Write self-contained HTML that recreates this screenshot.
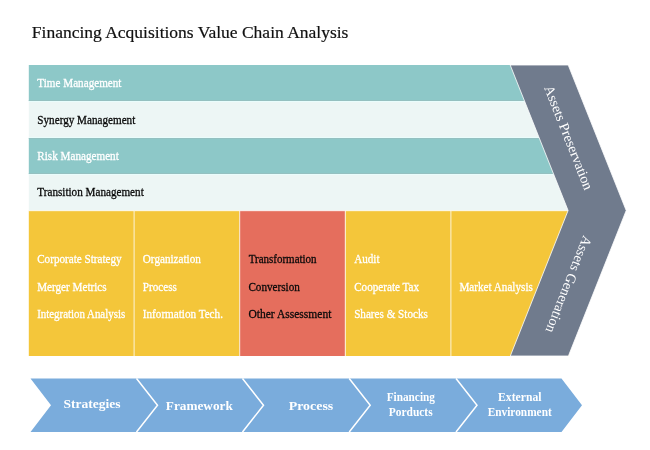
<!DOCTYPE html>
<html>
<head>
<meta charset="utf-8">
<title>Financing Acquisitions Value Chain Analysis</title>
<style>
html,body{margin:0;padding:0;background:#fff;}
body{width:650px;height:450px;overflow:hidden;}
svg{display:block;}
text{font-family:"Liberation Serif","Times New Roman",serif;}
.t{font-size:17.5px;fill:#111;stroke:#111;stroke-width:0.2px;}
.r{font-size:12.4px;}
.w{fill:#fff;stroke:#fff;stroke-width:0.3px;}
.k{fill:#0a0a0a;stroke:#0a0a0a;stroke-width:0.3px;}
.b{font-size:12.8px;font-weight:bold;fill:#fff;text-anchor:middle;}
.b2{font-size:12.2px;font-weight:bold;fill:#fff;text-anchor:middle;}
.g{font-size:14.1px;fill:#fff;}
</style>
</head>
<body>
<svg width="650" height="450" viewBox="0 0 650 450">
<rect width="650" height="450" fill="#fff"/>
<text class="t" x="31.800" y="38">Financing Acquisitions Value Chain Analysis</text>

<!-- support rows -->
<rect x="28.800" y="65" width="500" height="36" fill="#8DC8C8"/>
<rect x="28.800" y="101" width="520" height="37" fill="#EDF6F5"/>
<rect x="28.800" y="138" width="530" height="36" fill="#8DC8C8"/>
<rect x="28.800" y="174" width="540" height="37" fill="#EDF6F5"/>
<g stroke-width="1">
<line x1="28.800" y1="100.500" x2="526" y2="100.500" stroke="#95C0C0"/>
<line x1="28.800" y1="101.500" x2="526" y2="101.500" stroke="#E9FDFC"/>
<line x1="28.800" y1="137.500" x2="540" y2="137.500" stroke="#E9FDFC"/>
<line x1="28.800" y1="138.500" x2="540" y2="138.500" stroke="#95C0C0"/>
<line x1="28.800" y1="173.500" x2="554" y2="173.500" stroke="#95C0C0"/>
<line x1="28.800" y1="174.500" x2="554" y2="174.500" stroke="#E9FDFC"/>
</g>
<g transform="scale(0.9,1)">
<text class="r w" x="41.500" y="87.500">Time Management</text>
<text class="r k" x="41.500" y="123.700">Synergy Management</text>
<text class="r w" x="41.500" y="160.200">Risk Management</text>
<text class="r k" x="41.500" y="196.500">Transition Management</text>
</g>

<!-- primary boxes -->
<rect x="28.800" y="210.700" width="106" height="145.300" fill="#F4C63A"/>
<rect x="134" y="210.700" width="106" height="145.300" fill="#F4C63A"/>
<rect x="239.700" y="210.700" width="105.600" height="145.300" fill="#E56E5D"/>
<rect x="345.300" y="210.700" width="106" height="145.300" fill="#F4C63A"/>
<rect x="450.900" y="210.700" width="118" height="145.300" fill="#F4C63A"/>
<g stroke="#fff" stroke-width="1" stroke-opacity="0.800">
<line x1="28.800" y1="210.700" x2="569" y2="210.700"/>
<line x1="134.100" y1="210.700" x2="134.100" y2="356"/>
<line x1="239.700" y1="210.700" x2="239.700" y2="356"/>
<line x1="345.300" y1="210.700" x2="345.300" y2="356"/>
<line x1="450.900" y1="210.700" x2="450.900" y2="356"/>
</g>

<g transform="scale(0.9,1)">
<text class="r w" x="41.300" y="263.500">Corporate Strategy</text>
<text class="r w" x="41.300" y="290.800">Merger Metrics</text>
<text class="r w" x="41.300" y="318" textLength="97.800" lengthAdjust="spacingAndGlyphs">Integration Analysis</text>
<text class="r w" x="158.700" y="263.500">Organization</text>
<text class="r w" x="158.700" y="290.800">Process</text>
<text class="r w" x="158.700" y="318">Information Tech.</text>
<text class="r k" x="276.300" y="263.500" textLength="75.500" lengthAdjust="spacingAndGlyphs">Transformation</text>
<text class="r k" x="276" y="290.800">Conversion</text>
<text class="r k" x="276" y="318" textLength="92.200" lengthAdjust="spacingAndGlyphs">Other Assessment</text>
<text class="r w" x="393.500" y="263.500">Audit</text>
<text class="r w" x="393.500" y="290.800">Cooperate Tax</text>
<text class="r w" x="393.500" y="318">Shares &amp; Stocks</text>
<text class="r w" x="510.500" y="290.800">Market Analysis</text>
</g>

<!-- big chevron -->
<polygon points="510.200,65 568.200,65 626.200,210.500 568.400,356 510.300,356 568.100,210.500" fill="#707B8D" stroke="#fff" stroke-width="0.800"/>
<text class="g" transform="translate(543.900,87.800) rotate(68.400)">Assets Preservation</text>
<text class="g" transform="translate(583.400,234.800) rotate(111.600)">Assets Generation</text>

<!-- bottom arrows -->
<g fill="#7AACDC">
<polygon points="30.500,378.500 136.500,378.500 157.500,405.300 136.500,432 30.500,432 51,405.300"/>
<polygon points="136.500,378.500 242.500,378.500 263.500,405.300 242.500,432 136.500,432 157.500,405.300"/>
<polygon points="242.500,378.500 349.200,378.500 370.200,405.300 349.200,432 242.500,432 263.500,405.300"/>
<polygon points="349.200,378.500 456,378.500 477,405.300 456,432 349.200,432 370.200,405.300"/>
<polygon points="456,378.500 561.500,378.500 582,405.300 561.500,432 456,432 477,405.300"/>
</g>
<g fill="none" stroke="#fff" stroke-width="1.500">
<polyline points="136.500,378.500 157.500,405.300 136.500,432"/>
<polyline points="242.500,378.500 263.500,405.300 242.500,432"/>
<polyline points="349.200,378.500 370.200,405.300 349.200,432"/>
<polyline points="456,378.500 477,405.300 456,432"/>
</g>
<text class="b" x="92.100" y="407.900" textLength="57" lengthAdjust="spacingAndGlyphs">Strategies</text>
<text class="b" x="199.300" y="409.700" textLength="67" lengthAdjust="spacingAndGlyphs">Framework</text>
<text class="b" x="311" y="409.700" textLength="44.600" lengthAdjust="spacingAndGlyphs">Process</text>
<text class="b2" x="410.800" y="401" textLength="48.300" lengthAdjust="spacingAndGlyphs">Financing</text>
<text class="b2" x="410.700" y="415.900" textLength="43.800" lengthAdjust="spacingAndGlyphs">Porducts</text>
<text class="b2" x="519.800" y="401" textLength="43.400" lengthAdjust="spacingAndGlyphs">External</text>
<text class="b2" x="519.700" y="416" textLength="64.100" lengthAdjust="spacingAndGlyphs">Environment</text>
</svg>
</body>
</html>
